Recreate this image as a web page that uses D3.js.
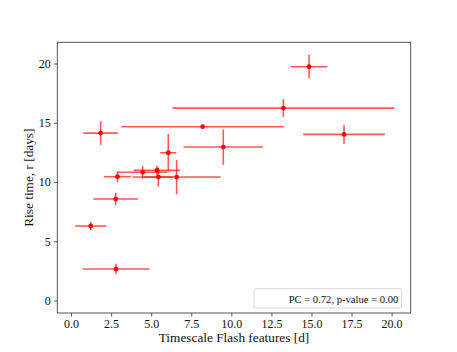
<!DOCTYPE html>
<html>
<head>
<meta charset="utf-8">
<script src="https://cdn.jsdelivr.net/npm/d3@7"></script>
<style>
  body { margin: 0; background: #fff; }
  svg text { font-family: "Liberation Serif", "DejaVu Serif", serif; fill: #111; }
</style>
</head>
<body>
<div id="chart"></div>
<script>
// values
var xVals = [14.85, 13.25, 8.21, 1.85, 17.03, 9.5, 6.07, 2.9, 4.47, 5.36, 5.45, 6.59, 2.79, 1.23, 2.81];
var yVals = [19.73, 16.24, 14.67, 14.13, 14.02, 12.95, 12.47, 10.45, 10.82, 10.98, 10.42, 10.42, 8.57, 6.29, 2.66];
var xErr  = [1.14, 6.92, 5.07, 1.08, 2.55, 2.48, 0.5, 0.85, 1.55, 1.45, 0.9, 2.75, 1.4, 0.97, 2.09];
var yErr  = [1.0, 0.76, 0.0, 1.0, 0.8, 1.5, 1.58, 0.45, 0.55, 0.42, 0.8, 1.45, 0.52, 0.35, 0.42];
var xTicks = [0, 2.5, 5, 7.5, 10, 12.5, 15, 17.5, 20];
var yTicks = [0, 5, 10, 15, 20];
var legendText = 'PC = 0.72, p-value = 0.00';

var width = 457,
    height = 352,
    axLeft = 57.3,
    axRight = 410.7,
    axTop = 42.3,
    axBottom = 313;

var dataset = xVals.map(function(x, i) {
  return { x: x, y: yVals[i], xe: xErr[i], ye: yErr[i] };
});

var xScale = d3.scaleLinear()
      .domain([-0.855, 21.19])
      .range([axLeft, axRight]);

var yScale = d3.scaleLinear()
      .domain([-1.05, 21.79])
      .range([axBottom, axTop]);

var svg = d3.select('#chart').append('svg')
  .attr('width', width)
  .attr('height', height);

svg.append('rect')
  .attr('width', width)
  .attr('height', height)
  .attr('fill', '#fff');

// error bars
var bars = svg.append('g')
  .attr('stroke', '#ff0000')
  .attr('stroke-opacity', 0.65)
  .attr('stroke-width', 1.6);

bars.selectAll('line.xe').data(dataset)
  .enter().append('line')
    .attr('class', 'xe')
    .attr('x1', function(d) { return xScale(d.x - d.xe); })
    .attr('x2', function(d) { return xScale(d.x + d.xe); })
    .attr('y1', function(d) { return yScale(d.y); })
    .attr('y2', function(d) { return yScale(d.y); });

bars.selectAll('line.ye').data(dataset.filter(function(d) { return d.ye > 0; }))
  .enter().append('line')
    .attr('class', 'ye')
    .attr('x1', function(d) { return xScale(d.x); })
    .attr('x2', function(d) { return xScale(d.x); })
    .attr('y1', function(d) { return yScale(d.y - d.ye); })
    .attr('y2', function(d) { return yScale(d.y + d.ye); });

svg.append('g').selectAll('circle').data(dataset)
  .enter().append('circle')
    .attr('cx', function(d) { return xScale(d.x); })
    .attr('cy', function(d) { return yScale(d.y); })
    .attr('r', 2.4)
    .attr('fill', '#ff0000');

// axes
var xAxis = d3.axisBottom(xScale)
    .tickValues(xTicks)
    .tickFormat(d3.format('.1f'))
    .tickSize(3.5)
    .tickPadding(3);

var yAxis = d3.axisLeft(yScale)
    .tickValues(yTicks)
    .tickFormat(d3.format('d'))
    .tickSize(3.5)
    .tickPadding(3);

var xg = svg.append('g')
  .attr('transform', 'translate(0,' + axBottom + ')')
  .call(xAxis);
xg.select('.domain').remove();

var yg = svg.append('g')
  .attr('transform', 'translate(' + axLeft + ',0)')
  .call(yAxis);
yg.select('.domain').remove();

svg.selectAll('.tick line').attr('stroke', '#333').attr('stroke-width', 0.8);
svg.selectAll('.tick text')
  .style('font-family', '"Liberation Serif", serif')
  .style('font-size', '12px')
  .attr('fill', '#111');

// frame
svg.append('rect')
  .attr('x', axLeft)
  .attr('y', axTop)
  .attr('width', axRight - axLeft)
  .attr('height', axBottom - axTop)
  .attr('fill', 'none')
  .attr('stroke', '#444')
  .attr('stroke-width', 0.9);

// labels
svg.append('text')
  .attr('x', (axLeft + axRight) / 2)
  .attr('y', 341.5)
  .attr('text-anchor', 'middle')
  .style('font-size', '13.3px')
  .text('Timescale Flash features [d]');

svg.append('text')
  .attr('transform', 'translate(33,' + ((axTop + axBottom) / 2) + ') rotate(-90)')
  .attr('text-anchor', 'middle')
  .style('font-size', '13.3px')
  .text('Rise time, r [days]');

// legend
svg.append('rect')
  .attr('x', 254)
  .attr('y', 288.7)
  .attr('width', 147.7)
  .attr('height', 19.3)
  .attr('rx', 2)
  .attr('fill', '#fff')
  .attr('fill-opacity', 0.8)
  .attr('stroke', '#ccc')
  .attr('stroke-width', 0.8);

svg.append('text')
  .attr('x', 398.3)
  .attr('y', 302.5)
  .attr('text-anchor', 'end')
  .style('font-size', '10.6px')
  .text(legendText);
</script>
</body>
</html>
